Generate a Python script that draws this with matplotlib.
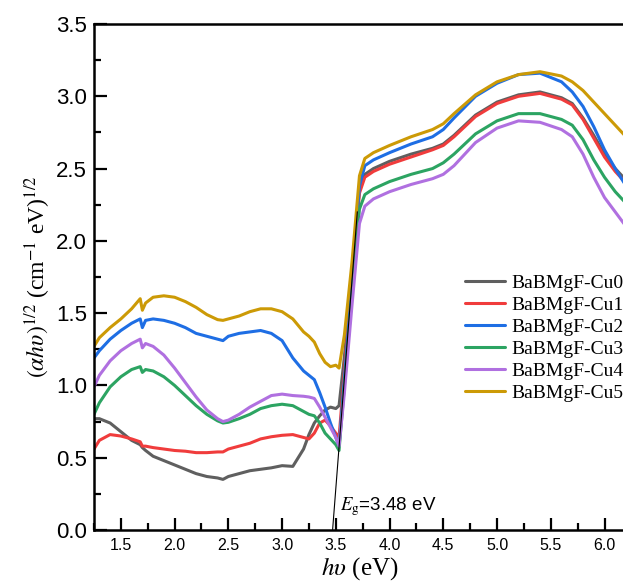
import matplotlib
matplotlib.use("Agg")
import matplotlib.pyplot as plt
from matplotlib.ticker import MultipleLocator

plt.rcParams['mathtext.fontset'] = 'stix'

x = [1.25, 1.30, 1.40, 1.50, 1.60, 1.68, 1.70, 1.73, 1.80, 1.90, 2.00, 2.10, 2.20, 2.30,
     2.40, 2.45, 2.50, 2.60, 2.70, 2.80, 2.90, 3.00, 3.10, 3.20, 3.25, 3.30, 3.35, 3.40,
     3.45, 3.50, 3.53, 3.58, 3.65, 3.72, 3.77, 3.85, 4.00, 4.20, 4.40, 4.50, 4.60, 4.80,
     5.00, 5.20, 5.40, 5.60, 5.70, 5.80, 5.90, 6.00, 6.10, 6.20]

cu0 = [0.77, 0.77, 0.74, 0.68, 0.62, 0.59, 0.57, 0.55, 0.51, 0.48, 0.45, 0.42, 0.39, 0.37,
       0.36, 0.35, 0.37, 0.39, 0.41, 0.42, 0.43, 0.445, 0.44, 0.56, 0.66, 0.74, 0.79, 0.83,
       0.85, 0.84, 0.86, 1.20, 1.78, 2.36, 2.46, 2.50, 2.55, 2.60, 2.64, 2.67, 2.73, 2.87,
       2.96, 3.01, 3.03, 2.99, 2.95, 2.85, 2.73, 2.60, 2.50, 2.42]
cu1 = [0.56, 0.62, 0.66, 0.65, 0.63, 0.61, 0.58, 0.58, 0.57, 0.56, 0.55, 0.545, 0.535, 0.535,
       0.54, 0.54, 0.56, 0.58, 0.60, 0.63, 0.645, 0.655, 0.66, 0.64, 0.63, 0.67, 0.74, 0.76,
       0.72, 0.67, 0.64, 1.10, 1.72, 2.33, 2.44, 2.48, 2.53, 2.58, 2.63, 2.66, 2.72, 2.86,
       2.95, 3.00, 3.02, 2.98, 2.94, 2.84, 2.71, 2.58, 2.48, 2.40]
cu2 = [1.19, 1.24, 1.32, 1.38, 1.43, 1.46, 1.40, 1.45, 1.46, 1.45, 1.43, 1.40, 1.36, 1.34,
       1.32, 1.31, 1.34, 1.36, 1.37, 1.38, 1.36, 1.31, 1.19, 1.10, 1.07, 1.04, 0.95, 0.85,
       0.74, 0.64, 0.58, 1.05, 1.70, 2.38, 2.52, 2.56, 2.61, 2.67, 2.72, 2.77, 2.85, 3.00,
       3.09, 3.15, 3.16, 3.10, 3.03, 2.93, 2.79, 2.63, 2.50, 2.38]
cu3 = [0.80, 0.88, 0.99, 1.06, 1.11, 1.13, 1.09, 1.11, 1.10, 1.06, 1.00, 0.93, 0.86, 0.80,
       0.755, 0.74, 0.745, 0.77, 0.80, 0.84, 0.86, 0.87, 0.86, 0.82, 0.80, 0.79, 0.74, 0.67,
       0.63, 0.59, 0.55, 1.00, 1.62, 2.22, 2.32, 2.36, 2.41, 2.46, 2.50, 2.54, 2.60, 2.74,
       2.83, 2.88, 2.88, 2.84, 2.80, 2.70, 2.56, 2.44, 2.34, 2.26]
cu4 = [0.99, 1.07, 1.17, 1.24, 1.29, 1.32, 1.26, 1.29, 1.27, 1.21, 1.12, 1.02, 0.92, 0.83,
       0.77, 0.75, 0.76, 0.80, 0.85, 0.89, 0.93, 0.94, 0.93, 0.925, 0.92, 0.91, 0.85, 0.78,
       0.71, 0.64, 0.58, 0.95, 1.55, 2.12, 2.24, 2.29, 2.34, 2.39, 2.43, 2.46, 2.52, 2.68,
       2.78, 2.83, 2.82, 2.77, 2.72, 2.60, 2.44, 2.30, 2.20, 2.10]
cu5 = [1.27, 1.33, 1.40, 1.46, 1.53, 1.60, 1.52, 1.57, 1.61, 1.62, 1.61, 1.58, 1.54, 1.49,
       1.455, 1.45, 1.46, 1.48, 1.51, 1.53, 1.53, 1.51, 1.46, 1.37, 1.34, 1.30, 1.22, 1.16,
       1.13, 1.14, 1.12, 1.35, 1.85, 2.45, 2.57, 2.61, 2.66, 2.72, 2.77, 2.81, 2.88, 3.01,
       3.10, 3.15, 3.17, 3.14, 3.10, 3.04, 2.96, 2.88, 2.80, 2.72]

labels = ['BaBMgF-Cu0', 'BaBMgF-Cu1', 'BaBMgF-Cu2', 'BaBMgF-Cu3', 'BaBMgF-Cu4', 'BaBMgF-Cu5']
colors = ['#5f5f5f', '#f03c3c', '#1e6ee4', '#2ca462', '#b070e0', '#cc9a06']
series = [cu0, cu1, cu2, cu3, cu4, cu5]

eg_line_x = [3.47, 3.70]
eg_line_y = [0.0, 2.2]
eg_text = '$E_{\\mathrm{g}}$=3.48 eV'

fig = plt.figure(figsize=(6.23, 5.83), dpi=100)
ax = fig.add_axes([94/623, 53/583, 532/623, 506/583])

for y, c, lab in zip(series, colors, labels):
    ax.plot(x, y, color=c, lw=2.2, label=lab, solid_capstyle='round',
            solid_joinstyle='round')

ax.plot(eg_line_x, eg_line_y, color='black', lw=0.8, zorder=5)
ax.text(3.54, 0.08, eg_text, fontsize=13.5, family='Liberation Sans', va='bottom', ha='left')

ax.set_xlim(1.25, 6.2)
ax.set_ylim(0, 3.5)
ax.xaxis.set_major_locator(MultipleLocator(0.5))
ax.xaxis.set_minor_locator(MultipleLocator(0.25))
ax.yaxis.set_major_locator(MultipleLocator(0.5))
ax.yaxis.set_minor_locator(MultipleLocator(0.25))
ax.tick_params(which='both', direction='in', width=1.6)
ax.tick_params(which='major', length=9)
ax.tick_params(which='minor', length=5)
ax.tick_params(axis='y', labelsize=16, pad=5)
ax.tick_params(axis='x', labelsize=11.5, pad=6)
for lab in ax.get_xticklabels() + ax.get_yticklabels():
    lab.set_family('Liberation Sans')
for sp in ax.spines.values():
    sp.set_linewidth(1.8)

ax.set_xlabel('$h\\upsilon$ (eV)', fontsize=18, family='Liberation Serif', labelpad=1)
ax.set_ylabel('$(\\alpha h\\upsilon)^{1/2}$ (cm$^{-1}$ eV)$^{1/2}$', fontsize=17,
              family='Liberation Serif', labelpad=2)

ax.legend(loc='upper left', bbox_to_anchor=(0.682, 0.52), frameon=False,
          prop={'family': 'Liberation Serif', 'size': 14}, handlelength=2.1,
          handletextpad=0.3, labelspacing=0.22, borderaxespad=0)

fig.savefig('out.png', dpi=100)
